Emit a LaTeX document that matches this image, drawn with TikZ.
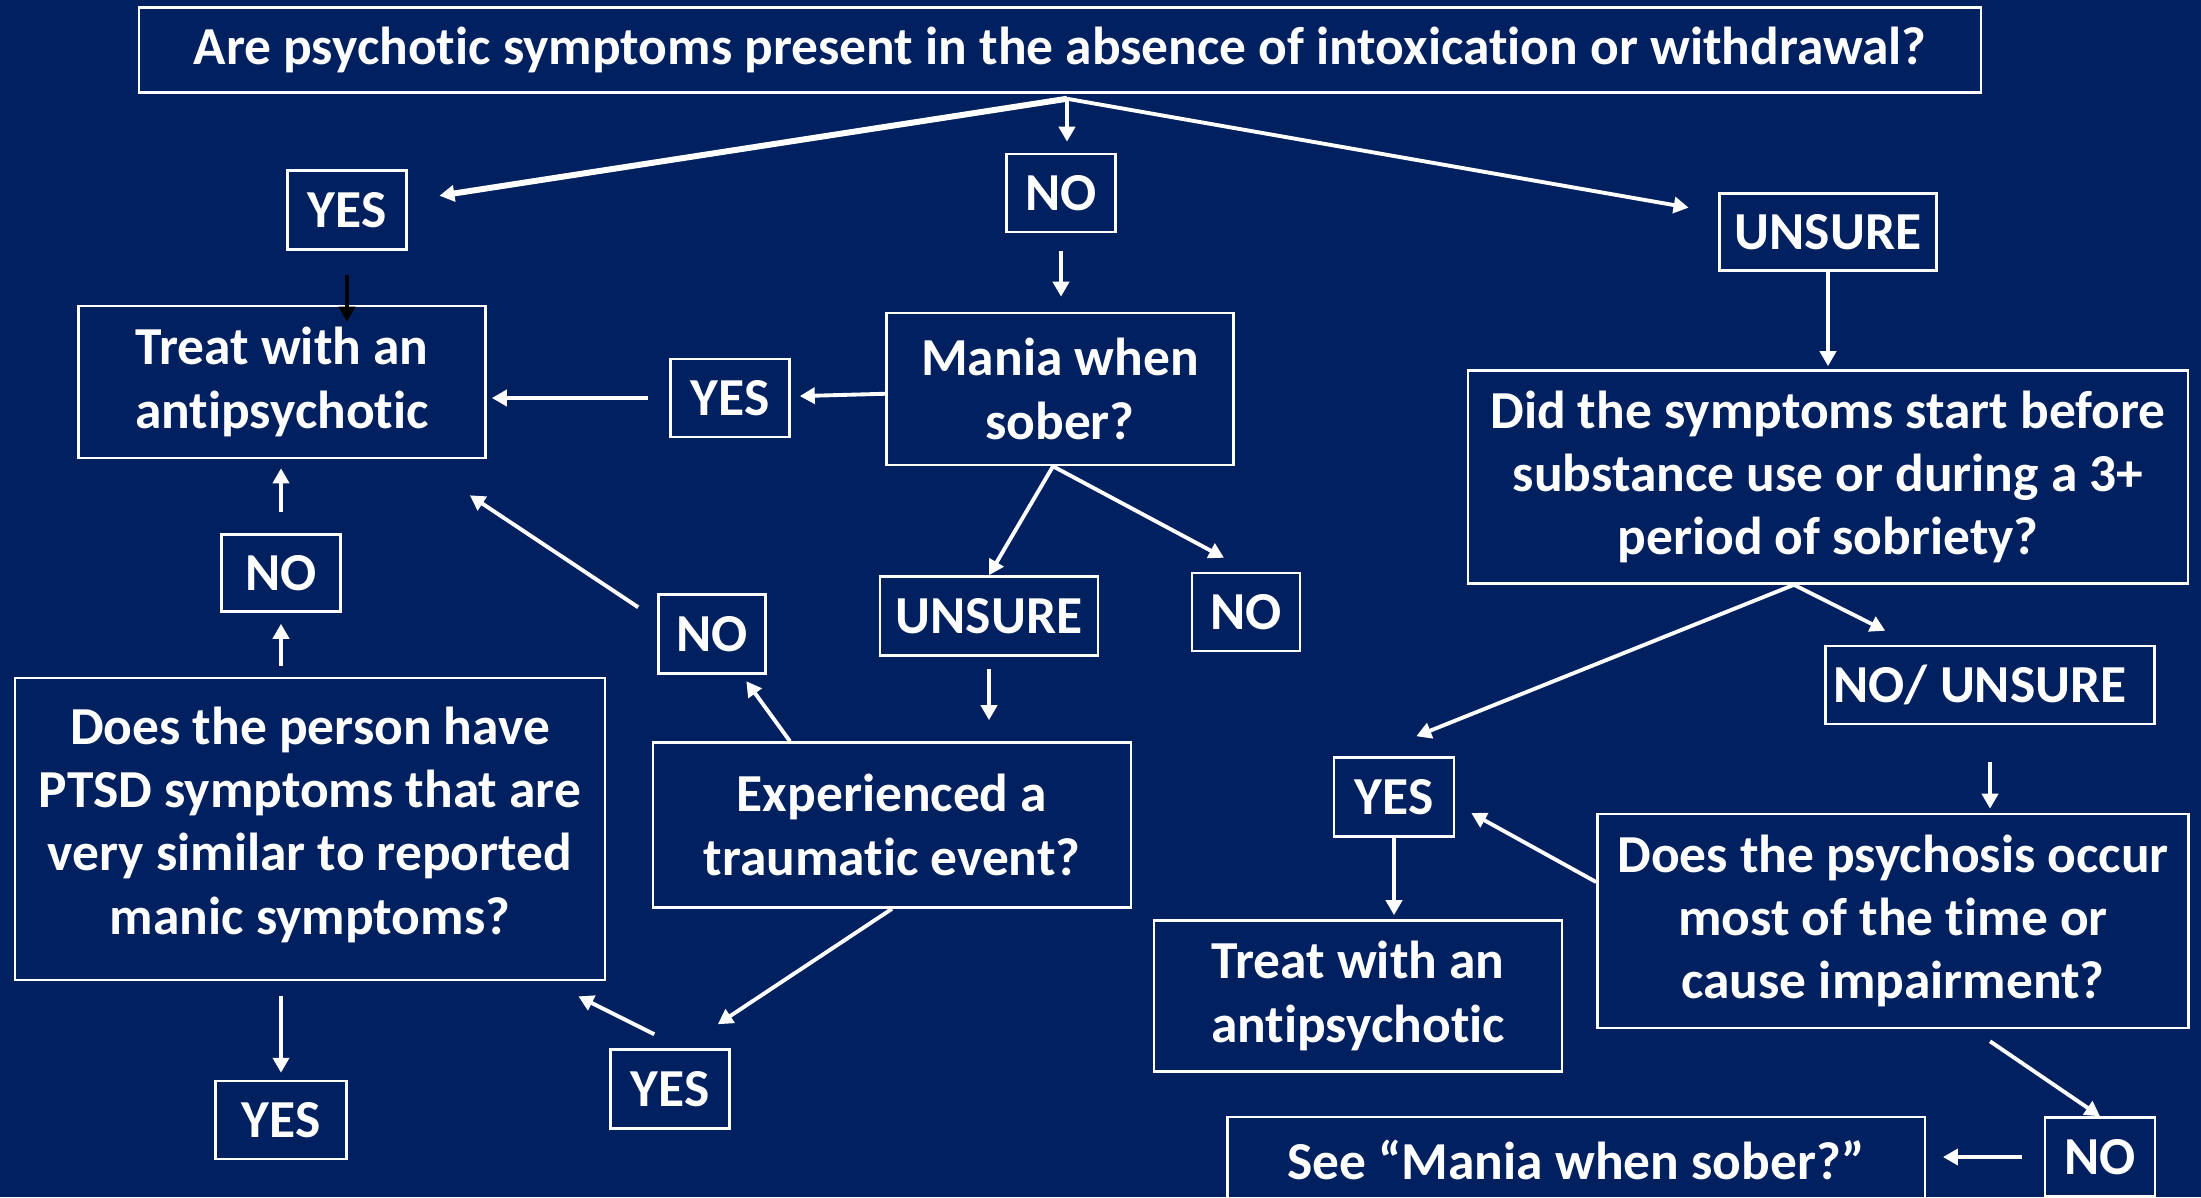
\documentclass[tikz,border=0pt]{standalone}
\usepackage{fontspec}
\setmainfont{Carlito}[Ligatures=NoCommon]
\usetikzlibrary{arrows.meta,calc}
\definecolor{navy}{RGB}{0,32,96}
\begin{document}
\begin{tikzpicture}[x=0.01cm, y=-0.01cm,
		box/.style={draw=white, line width=0.7pt, text=white, align=center, inner sep=0pt,
			font=\fontsize{15.2pt}{18pt}\selectfont\bfseries},
		wh/.style 2 args={minimum width=#1cm, minimum height=#2cm},
		arr/.style={draw=white, line width=1.1pt, -{Triangle[length=0.15cm,width=0.16cm]}}]
			
			\fill[navy] (0,0) rectangle (2201,1197);
			\useasboundingbox (0,0) rectangle (2201,1197);
			
			\node[box, wh={18.41}{0.85}] (top) at (1060,50) {Are psychotic symptoms present in the absence of intoxication or withdrawal?};
			\node[box, wh={1.19}{0.79}] (yes1) at (347,210) {YES};
			\node[box, wh={1.09}{0.78}] (no1) at (1061,193) {NO};
			\node[box, wh={2.17}{0.77}] (uns1) at (1828,232) {UNSURE};
			\node[box, wh={4.07}{1.52}] (treat1) at (282,382) {Treat with an\\antipsychotic};
			\node[box, wh={1.19}{0.78}] (yes2) at (730,398) {YES};
			\node[box, wh={3.47}{1.52}] (mania) at (1060,389) {Mania when\\sober?};
			\node[box, wh={7.20}{2.13}] (did) at (1828,477) {Did the symptoms start before\\substance use or during a 3+\\period of sobriety?};
			\node[box, wh={1.19}{0.77}] (no2) at (281,573) {NO};
			\node[box, wh={1.07}{0.79}] (no3) at (712,634) {NO};
			\node[box, wh={2.18}{0.79}] (uns2) at (989,616) {UNSURE};
			\node[box, wh={1.08}{0.78}] (no4) at (1246,612) {NO};
			\node[box, wh={3.29}{0.78}] (nouns) at (1990,685) {NO/ UNSURE\hspace{0.2cm}};
			\node[box, wh={5.90}{3.02}] (ptsd) at (310,829) {Does the person have\\PTSD symptoms that are\\very similar to reported\\manic symptoms?\\[-0.46cm]};
			\node[box, wh={4.78}{1.65}] (exp) at (892,825) {Experienced a\\traumatic event?};
			\node[box, wh={1.20}{0.79}] (yes3) at (1394,797) {YES};
			\node[box, wh={5.91}{2.14}] (psy) at (1893,921) {Does the psychosis occur\\most of the time or\\cause impairment?};
			\node[box, wh={4.08}{1.51}] (treat2) at (1358,996) {Treat with an\\antipsychotic};
			\node[box, wh={1.31}{0.78}] (yes4) at (281,1120) {YES};
			\node[box, wh={1.19}{0.79}] (yes5) at (670,1089) {YES};
			\node[box, wh={6.97}{0.86}] (see) at (1576,1160) {See “Mania when sober?”};
			\node[box, wh={1.10}{0.79}] (no5) at (2100,1157) {NO};
			
			\coordinate (split) at ($(top.south)+(0.07cm,-0.05cm)$);
			\coordinate (mfork) at ([xshift=-0.07cm]mania.south);
			\coordinate (dfork) at ([xshift=-0.34cm]did.south);
			
			% first question
			\draw[arr, line width=1.7pt, shorten >=0.32cm] (split) -- (yes1);
			\draw[arr, shorten >=0.11cm] (split) -- (split |- no1.north);
			\draw[arr, shorten >=0.3cm] (split) -- (uns1);
			\draw[arr, draw=black, shorten <=0.24cm, shorten >=-0.17cm] (yes1.south) -- (yes1.south |- treat1.north);
			\draw[arr, shorten <=0.18cm, shorten >=0.15cm] (no1.south) -- (no1.south |- mania.north);
			\draw[arr, shorten >=0.03cm] (uns1.south) -- (uns1.south |- did.north);
			
			% mania branch
			\draw[arr, shorten >=0.09cm] (mania) -- (yes2);
			\draw[arr, shorten <=0.21cm, shorten >=0.05cm] (yes2.west) -- (yes2.west -| treat1.east);
			\draw[arr] (mfork) -- (uns2.north);
			\draw[arr] (mfork) -- ([shift={(-0.22cm,0.14cm)}]no4.north);
			\draw[arr, shorten <=0.12cm, shorten >=0.21cm] (uns2.south) -- (uns2.south |- exp.north);
			
			% trauma branch
			\draw[arr, shorten >=0.08cm] ([xshift=-1.02cm]exp.north) -- (no3);
			\draw[arr] ([shift={(-0.19cm,-0.14cm)}]no3.north west) -- ([shift={(-0.17cm,-0.36cm)}]treat1.south east);
			\draw[arr] (exp.south) -- ([shift={(-0.13cm,0.24cm)}]yes5.north east);
			\draw[arr] ([shift={(0.45cm,0.14cm)}]yes5.north west) -- ([shift={(-0.28cm,-0.15cm)}]ptsd.south east);
			\draw[arr, shorten <=0.11cm, shorten >=0.11cm] (no2.south |- ptsd.north) -- (no2.south);
			\draw[arr, shorten <=0.21cm, shorten >=0.09cm] (no2.north) -- (no2.north |- treat1.south);
			\draw[arr, shorten <=0.15cm, shorten >=0.07cm] (yes4.north |- ptsd.south) -- (yes4.north);
			
			% sobriety branch
			\draw[arr] (dfork) -- ([shift={(-0.39cm,0.2cm)}]yes3.north east);
			\draw[arr] (dfork) -- ([shift={(0.61cm,0.14cm)}]nouns.north west);
			\draw[arr, shorten <=0.37cm, shorten >=0.04cm] (nouns.south) -- (nouns.south |- psy.north);
			\draw[arr] ([yshift=0.39cm]psy.west) -- ([shift={(0.16cm,-0.16cm)}]yes3.east);
			\draw[arr, shorten >=0.04cm] (yes3.south) -- (yes3.south |- treat2.north);
			\draw[arr] ([shift={(0.97cm,-0.12cm)}]psy.south) -- (no5.north);
			\draw[arr, shorten <=0.22cm, shorten >=0.17cm] (no5.west) -- (no5.west -| see.east);
			
			\end{tikzpicture}
\end{document}
